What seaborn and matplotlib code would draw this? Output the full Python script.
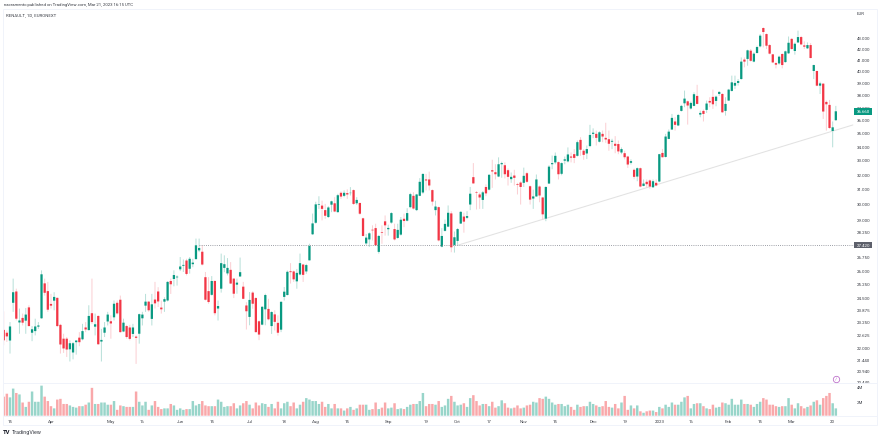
import matplotlib
matplotlib.use("Agg")
import matplotlib.pyplot as plt
from matplotlib.patches import Rectangle
from matplotlib.lines import Line2D
from matplotlib.ticker import NullLocator, FixedLocator, FixedFormatter
import numpy as np
import pandas as pd
import seaborn as sns

# (open, high, low, close), EUR
bars_mar_jun = [
(22.84,23.77,22.10,22.33),(22.70,22.81,22.25,22.52),(22.32,23.23,21.70,23.01),(24.22,25.52,23.75,24.78),(24.82,24.97,23.31,23.40),
(23.21,23.92,22.65,23.31),(23.44,23.66,23.06,23.20),(23.30,23.95,22.65,23.61),(23.98,24.09,23.01,23.03),(22.70,23.03,22.29,22.87),
(22.78,23.40,22.57,23.01),(23.00,23.23,22.89,23.06),(23.42,25.98,23.40,25.76),(25.26,25.52,24.60,24.75),(24.84,25.34,23.75,23.86),
(24.16,24.69,23.92,24.07),(24.33,24.78,23.83,24.53),(24.48,24.50,22.98,23.03),(23.09,23.14,21.70,22.13),(22.41,22.65,21.73,21.94),
(22.41,22.49,21.54,21.89),(21.90,22.33,21.33,22.19),(21.75,22.25,21.43,22.19),(22.24,22.33,21.65,22.32),(22.46,22.73,22.05,22.24),
(22.38,23.14,22.33,22.78),(22.96,23.23,22.73,22.86),(22.83,24.09,22.81,23.54),(23.68,25.52,23.14,23.23),(23.00,23.66,22.57,23.12),
(23.54,23.57,22.12,22.14),(22.27,22.89,21.33,22.35),(22.70,23.23,22.49,22.96),(23.26,23.75,23.06,23.61),(23.27,23.57,22.41,23.16),
(23.47,24.34,23.31,24.17),(24.22,24.34,23.61,23.67),(24.38,24.60,22.70,22.73),(22.76,23.40,22.73,23.20),(23.03,23.09,22.41,22.49),
(22.96,23.09,22.33,22.40),(22.64,23.14,22.49,22.96),(22.51,22.57,21.22,22.45),(22.65,23.66,22.17,23.63),(23.42,23.75,23.06,23.61),
(24.07,24.69,23.75,24.28),(24.28,24.31,23.75,23.83),(23.39,24.69,23.06,24.14),(24.39,25.34,23.92,24.19),(24.82,25.05,24.00,24.29),
(23.97,24.34,23.66,23.88),(24.28,24.51,23.75,24.41),(24.34,25.38,24.29,25.34),(25.39,25.52,24.69,25.21),(25.50,25.98,25.10,25.72),
(25.59,25.70,25.14,25.63),(26.04,26.74,25.94,26.20),(26.24,26.60,25.89,26.29),(26.54,26.64,25.70,25.78),(26.07,26.74,25.80,26.64),
(26.33,26.64,26.16,26.42),(26.62,27.83,26.60,27.43),(27.13,27.83,27.03,27.27),(27.05,27.43,26.26,26.31),(25.60,25.89,24.34,24.38),
(24.84,25.60,24.17,24.26),(24.64,25.66,24.60,25.39),(25.39,25.43,23.57,23.68),(23.92,24.34,23.31,24.05),
]
bars_jun_sep = [
(24.97,26.94,24.76,26.39),(26.12,26.84,25.88,26.33),(25.81,26.68,25.70,26.12),(26.01,26.45,25.23,25.25),(25.52,25.55,24.47,24.70),
(25.19,25.52,24.70,25.30),(25.64,26.71,25.62,25.88),(25.08,25.34,24.41,24.43),(24.08,24.25,22.86,23.78),(23.49,24.79,23.07,24.37),
(24.76,24.83,23.91,24.17),(24.47,24.52,22.70,22.73),(23.27,23.32,22.34,22.61),(23.10,24.05,23.07,24.01),(23.88,24.70,23.07,24.63),
(23.90,24.43,23.32,23.37),(23.03,23.78,22.64,23.74),(23.62,23.83,22.81,23.24),(23.19,23.57,22.56,22.70),(22.85,24.30,22.73,24.27),
(24.53,25.06,24.34,24.81),(24.63,25.97,24.61,25.90),(25.93,26.39,25.25,25.88),(25.92,25.97,25.34,25.48),(25.37,26.06,24.97,25.84),
(25.75,26.94,25.70,26.39),(26.31,26.35,25.34,25.73),(25.92,26.35,25.79,26.28),(26.55,27.52,26.55,27.39),(28.09,29.38,28.05,28.76),
(28.80,30.14,28.74,29.97),(29.93,30.50,29.68,29.97),(29.89,30.21,28.95,29.68),(29.60,30.00,29.05,29.24),(29.16,29.85,29.10,29.77),
(29.95,30.21,29.47,30.17),(30.04,30.44,29.47,29.51),(29.47,30.66,29.43,30.57),(30.73,30.82,30.33,30.48),(30.53,30.89,30.44,30.73),
(30.71,30.96,30.33,30.62),(30.71,31.11,30.55,30.73),(30.91,30.96,29.93,30.00),(30.04,30.44,29.93,30.26),(30.06,30.10,29.31,29.37),
(29.08,29.12,27.95,27.99),(27.54,28.11,27.46,27.89),(27.78,28.21,27.33,28.15),(28.37,28.64,27.72,28.33),(28.47,28.74,27.39,27.43),
(27.04,28.05,26.94,27.99),(28.23,28.64,27.52,28.19),(28.89,29.26,28.01,28.64),(28.40,28.68,28.01,28.48),(28.81,29.47,28.74,29.41),
(28.41,28.74,27.72,27.78),(27.87,28.74,27.82,28.36),(28.07,29.16,28.01,28.99),(29.05,29.37,28.53,28.91),(28.93,29.72,28.89,29.41),
(29.79,30.73,29.72,30.64),(30.53,30.77,29.64,29.70),(29.60,30.66,29.54,30.62),(30.53,31.72,30.51,31.47),(30.75,32.06,30.66,32.01),
(31.63,32.01,30.89,31.56),(31.63,32.17,30.89,31.22),(30.91,30.96,29.89,30.15),(29.60,30.21,29.26,29.83),(29.79,29.83,27.66,27.72),
]
bars_oct_dec = [
(27.35,28.47,27.31,27.99),(28.30,29.00,28.26,28.73),(28.56,29.90,28.53,29.43),(29.39,29.53,27.02,27.31),(27.45,28.26,27.00,27.91),
(27.69,28.47,27.45,28.41),(28.75,29.53,28.73,29.49),(29.19,29.43,28.19,28.87),(29.11,29.53,29.03,29.22),(29.96,31.12,29.60,30.67),
(31.79,32.77,31.36,31.36),(30.76,30.85,29.64,30.72),(30.62,30.74,29.68,30.42),(30.26,30.85,29.68,30.76),(31.12,31.29,30.51,30.69),
(30.94,32.00,30.89,31.95),(32.27,33.01,31.06,32.18),(32.13,32.69,31.63,31.99),(31.83,33.18,31.79,32.69),(32.69,32.87,31.75,32.77),
(32.62,32.82,31.70,31.99),(32.27,32.39,31.22,31.81),(31.65,32.11,31.40,31.81),(31.90,32.30,31.22,31.74),(31.31,31.40,30.62,31.26),
(31.42,31.51,29.96,31.12),(31.40,32.45,31.12,31.88),(32.06,32.16,31.40,31.47),(31.17,31.22,29.96,30.28),(30.35,30.94,29.68,30.49),
(30.49,31.97,30.46,31.63),(31.15,31.22,30.11,30.55),(30.42,30.46,29.00,29.33),(29.06,31.17,28.90,31.12),(31.35,32.62,31.33,32.52),
(32.69,33.31,32.34,32.77),(32.82,33.53,32.69,33.29),(32.84,32.89,31.63,31.99),(32.02,32.82,31.92,32.77),(32.94,33.24,32.69,33.04),
(32.89,33.90,32.82,33.39),(33.24,33.53,32.82,33.16),(33.41,33.78,32.77,33.14),(33.29,34.41,33.24,34.29),(34.46,34.66,33.29,33.73),
(33.66,33.78,33.01,33.36),(33.46,34.04,33.06,33.78),(34.00,35.60,33.92,34.83),(34.91,35.33,34.59,35.00),(34.91,35.16,34.04,34.61),
(34.32,35.11,34.27,35.03),(34.91,35.16,34.29,34.71),(34.61,35.76,34.24,34.49),(34.51,35.16,33.66,34.17),(34.32,34.54,33.78,34.39),
(34.17,34.74,33.48,34.02),(34.15,34.41,33.41,33.61),(33.53,33.90,33.41,33.78),(33.48,33.66,33.04,33.19),(33.24,33.29,32.43,32.67),
(32.79,33.04,32.67,32.91),(32.30,32.39,31.65,31.81),(31.83,32.46,31.51,32.41),(32.41,32.46,31.10,31.15),(31.19,31.63,31.17,31.35),
(31.47,31.63,31.06,31.31),(31.56,31.63,31.00,31.15),(31.10,31.63,31.06,31.51),(31.40,31.63,31.17,31.22),
]
bars_jan_mar = [
(31.49,33.43,31.44,33.41),(33.50,33.79,33.17,33.19),(33.21,34.91,33.17,34.71),(34.53,35.24,34.51,35.08),(35.24,36.45,35.21,36.14),
(35.86,36.19,35.16,35.60),(35.55,36.45,35.50,36.37),(36.69,37.17,36.64,37.09),(37.30,38.34,36.99,37.68),(37.46,37.52,35.62,37.12),
(36.88,37.44,36.80,37.33),(37.09,38.20,37.06,38.04),(37.90,38.82,37.22,37.25),(36.40,36.71,36.19,36.53),(36.69,36.80,35.86,36.45),
(36.77,37.52,36.53,37.28),(37.49,37.79,36.99,37.36),(37.82,38.42,36.85,37.22),(37.49,37.93,37.06,37.84),(38.06,38.29,37.90,38.23),
(38.06,38.12,36.53,36.58),(36.69,37.79,36.32,37.25),(37.52,38.48,37.49,38.42),(38.31,39.60,38.26,39.03),(38.75,39.60,38.48,38.98),
(38.98,39.31,38.76,39.14),(39.31,41.19,39.26,40.82),(41.00,41.19,40.32,40.82),(41.06,41.89,40.46,41.83),(41.80,41.95,40.82,40.89),
(40.82,41.65,40.76,41.53),(41.59,42.25,41.53,42.13),(42.19,43.33,42.10,43.18),(43.90,43.96,42.10,43.52),(43.33,43.39,41.95,42.25),
(42.31,42.40,41.47,41.53),(41.47,41.50,40.69,40.75),(40.69,40.80,40.23,40.55),(40.66,41.35,40.55,41.26),(41.50,41.56,40.23,40.52),
(40.78,41.80,40.72,41.74),(41.56,43.10,41.50,42.52),(42.88,42.95,41.89,41.95),(41.77,42.55,41.44,42.43),(42.55,43.65,42.49,43.05),
(43.05,43.16,42.31,42.37),(42.28,42.65,41.95,42.16),(42.01,42.55,41.95,42.31),(42.31,42.49,41.11,41.14),(40.00,40.55,39.31,40.52),
(40.00,40.03,38.70,38.75),(38.75,39.08,38.06,38.94),(38.92,38.95,36.06,36.64),(37.41,37.52,35.16,37.22),(37.17,37.57,35.29,35.36),
(35.13,35.86,33.91,35.41),(35.96,37.09,35.91,36.66),
]
# volume in millions of shares
vol_mar_jun = [2.6,3.0,2.5,3.7,3.1,2.9,1.8,1.2,1.9,3.3,1.9,1.9,4.1,2.6,2.0,1.3,1.0,2.2,2.3,1.6,1.6,1.4,1.2,1.1,1.3,1.3,1.5,1.8,3.8,1.6,1.6,1.8,1.8,1.5,1.5,2.0,0.8,1.4,1.3,1.2,1.2,1.2,3.3,1.9,1.4,1.9,0.8,1.4,2.0,1.2,0.9,1.0,1.0,1.6,1.4,0.8,1.0,0.8,0.9,0.9,2.0,1.4,1.6,2.0,1.4,1.3,1.3,1.3,2.2]
vol_jun_sep = [1.9,1.2,1.3,1.3,1.7,1.0,1.4,1.7,2.0,1.5,1.0,1.8,1.4,1.7,1.6,1.2,1.6,1.0,1.9,1.0,1.7,1.9,1.3,1.8,1.0,1.5,1.9,2.4,2.2,2.0,2.0,1.6,1.9,1.2,1.6,1.0,1.6,1.0,1.0,0.7,1.0,1.2,0.8,1.0,1.5,1.5,1.5,0.8,0.9,1.8,0.9,1.1,1.8,1.0,1.1,1.7,0.9,1.0,0.9,1.2,1.5,1.6,1.6,2.0,3.1,1.3,1.6,1.6,1.5,2.0]
vol_oct_dec = [1.2,1.4,2.3,2.7,1.9,1.4,1.5,1.7,1.2,2.4,2.8,2.0,1.4,1.6,1.6,1.3,1.9,1.1,1.3,2.1,1.7,1.1,1.0,1.1,1.4,1.0,1.1,1.4,1.5,1.9,1.8,2.4,2.3,2.6,2.3,1.8,1.5,1.6,1.6,1.3,1.5,1.2,0.8,1.5,1.2,1.3,1.3,1.9,1.6,1.4,1.2,1.3,2.0,1.2,1.1,1.6,1.0,1.8,2.7,0.8,1.4,1.0,1.4,0.6,0.4,0.6,0.7,0.7,0.5]
vol_jan_mar = [1.2,1.0,1.5,1.2,1.8,1.5,1.5,1.9,2.5,2.7,1.0,1.6,1.7,1.7,1.3,1.0,0.9,1.5,1.1,1.2,1.8,1.7,1.5,2.3,1.5,1.5,2.2,1.6,1.6,1.5,1.2,1.6,1.9,2.4,2.2,1.5,1.5,1.3,1.2,1.3,1.3,2.4,1.5,1.0,1.7,1.3,1.0,1.2,1.4,1.9,2.1,1.5,2.4,2.7,3.1,1.7,1.0]

price_ticks = [43,42,41,40,39,38,37,36,35,34,33,32,31,30,29,28.25,26.75,26,25.25,24.5,23.875,23.25,22.625,22,21.44,20.94,20.44]
volume_ticks = [2, 4]
volume_tick_labels = ["2M", "4M"]
date_positions = [2,15,34,44,56,66,78,89,99,109,122,134,144,154,165,175,187,197,208,218,230,240,250,263]
date_labels = ["15","Apr","May","16","Jun","15","Jul","18","Aug","15","Sep","19","Oct","17","Nov","15","Dec","19","2023","16","Feb","15","Mar","20"]
level_price = 27.42
level_start = 62
last_price = 36.66
trend_bars = [143.8, 269.4]
trend_prices = [27.42, 35.59]

W, H = 880, 439
sns.set_theme(style="white")
plt.rcParams["font.family"] = ["Roboto", "DejaVu Sans"]

rows = bars_mar_jun + bars_jun_sep + bars_oct_dec + bars_jan_mar
df = pd.DataFrame(rows, columns=["open", "high", "low", "close"])
df["volume"] = vol_mar_jun + vol_jun_sep + vol_oct_dec + vol_jan_mar
df["bar"] = np.arange(len(df))
df["dir"] = np.where(df["close"] >= df["open"], "up", "down")

UP, DOWN = "#089981", "#F23645"
UP_W, DOWN_W = "#b8e0d9", "#fbcfd3"
UP_V, DOWN_V = "#98d5ca", "#f9a8aa"
TXT = "#3a3d45"
LINE = "#f0f3fa"

def frame(l, t, r, b):
    return [l / W, 1 - b / H, (r - l) / W, (b - t) / H]

fig = plt.figure(figsize=(W / 100, H / 100), dpi=100, facecolor="white")
ax = fig.add_axes(frame(3, 10, 854, 384))
vax = fig.add_axes(frame(3, 384, 854, 416.7))

# volume pane
sns.barplot(data=df, x="bar", y="volume", hue="dir", hue_order=["up", "down"],
            palette={"up": UP_V, "down": DOWN_V}, native_scale=True, dodge=False,
            width=0.78, legend=False, saturation=1, ax=vax, linewidth=0, errorbar=None)
for p in vax.patches:
    p.set_snap(False)

# candles
wicks = ax.vlines(df["bar"], df["low"], df["high"], colors=np.where(df["dir"] == "up", UP_W, DOWN_W),
                  linewidth=0.72, zorder=2)
wicks.set_snap(False)
lo = df[["open", "close"]].min(axis=1)
hi = df[["open", "close"]].max(axis=1)
bodies = ax.bar(df["bar"], hi - lo, bottom=lo, width=0.72, color=np.where(df["dir"] == "up", UP, DOWN),
                linewidth=0, zorder=3)
for p in bodies:
    p.set_snap(False)

ax.set_yscale("log")
x0 = (3 - 3.7) / 3.152
x1 = (854 - 3.7) / 3.152
ax.set_xlim(x0, x1)
ax.set_ylim(40 * np.exp((72 - 384) / 462), 40 * np.exp((72 - 10) / 462))
vax.set_xlim(x0, x1)
vax.set_ylim(0, 32.7 / 7.33)

# reference lines
ax.plot(trend_bars, trend_prices, color="#e2e2e2", lw=0.75, zorder=1)
ax.hlines(level_price, level_start, x1, color="#7d808a", lw=0.6, linestyles=(0, (1, 1.6)), zorder=4)

# axes, ticks
ax.yaxis.tick_right()
ax.yaxis.set_major_locator(FixedLocator(price_ticks))
ax.yaxis.set_major_formatter(FixedFormatter([f"{p:.3f}" for p in price_ticks]))
ax.yaxis.set_minor_locator(NullLocator())
ax.tick_params(axis="y", length=0, pad=2.2, labelsize=3.2, labelcolor=TXT)
ax.set_xticks([])
ax.set_xlabel("")
vax.yaxis.tick_right()
vax.set_yticks(volume_ticks, volume_tick_labels)
vax.set_ylabel("")
vax.set_xlabel("")
vax.set_xticks(date_positions, date_labels)
vax.tick_params(axis="y", length=0, pad=2.2, labelsize=3.2, labelcolor=TXT)
vax.tick_params(axis="x", length=0, pad=2.2, labelsize=3.2, labelcolor=TXT)
for a in (ax, vax):
    for s in a.spines.values():
        s.set_visible(False)

# figure furniture
fig.add_artist(Rectangle((3 / W, 1 - 426 / H), 874 / W, 416 / H, fill=False, ec=LINE, lw=0.7,
                         transform=fig.transFigure))
for y in (384, 417):
    fig.add_artist(Line2D([3 / W, 877 / W], [1 - y / H] * 2, color=LINE, lw=0.7))

def ftext(x, y, s, **kw):
    kw.setdefault("fontsize", 3.2)
    kw.setdefault("color", TXT)
    kw.setdefault("va", "center")
    fig.text(x / W, 1 - y / H, s, **kw)

ftext(4, 4.6, "nacramento published on TradingView.com, Mar 21, 2023 16:15 UTC", fontsize=3.1)
ftext(6, 15, "RENAULT, 1D, EURONEXT", fontsize=3.15)
ftext(857, 14, "EUR")
ftext(3, 432.8, "TV", fontsize=4.2, fontweight="bold", color="#131722")
ftext(12, 432.8, "TradingView", fontsize=3.9)

# price flags
for y, val, col in ((246, level_price, "#5d606b"), (112.4, last_price, UP)):
    fig.add_artist(Rectangle((854 / W, 1 - (y + 3.2) / H), 18 / W, 6.4 / H, fc=col, ec="none",
                             transform=fig.transFigure, zorder=5))
    fig.text(857 / W, 1 - y / H, f"{val:.3f}", fontsize=3.2, color="white", va="center", zorder=6)

# event marker
ftext(835.7, 379.8, "\u2044", ha="center", color="#ab47bc", fontsize=3.4)
fig.add_artist(Line2D([835.7 / W], [1 - 379.8 / H], marker="o", ms=4.6, mfc="none", mec="#ba68c8", mew=0.55, ls=""))

fig.savefig("out.png", dpi=100, facecolor="white")
